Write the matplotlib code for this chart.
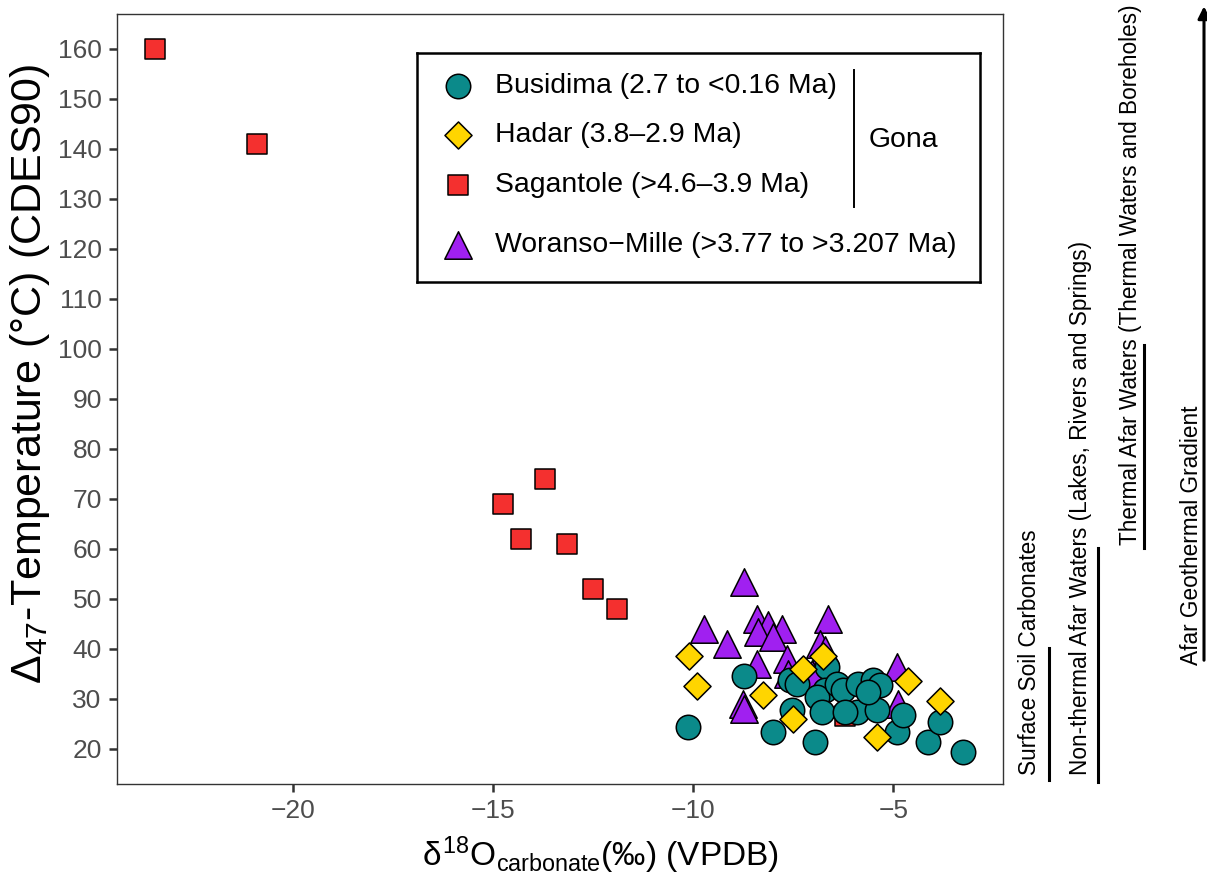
import numpy as np
import matplotlib.pyplot as plt

plt.rcParams['font.family'] = ['Liberation Sans', 'DejaVu Sans']
plt.rcParams['mathtext.fontset'] = 'custom'
plt.rcParams['mathtext.rm'] = 'Liberation Sans'
plt.rcParams['mathtext.it'] = 'Liberation Sans'

###############################################################################
# Datos
###############################################################################
busidima_x = [-10.13, -8.73, -8.0, -7.54, -6.96, -7.58, -7.42, -6.67, -6.71, -6.92,
              -6.79, -6.42, -6.25, -5.88, -5.92, -6.21, -5.5, -5.33, -5.42, -4.92,
              -4.75, -4.13, -3.83, -3.25, -5.63]
busidima_y = [24.3, 34.5, 23.3, 27.7, 21.3, 33.7, 33.0, 36.3, 31.7, 30.3,
              27.3, 33.0, 31.7, 33.0, 27.3, 27.3, 33.7, 32.7, 27.7, 23.3,
              26.7, 21.3, 25.3, 19.3, 31.3]

hadar_x = [-10.1, -9.92, -8.25, -7.25, -6.75, -7.5, -5.42, -4.63, -3.83]
hadar_y = [38.5, 32.5, 30.7, 36.0, 38.5, 26.0, 22.3, 33.5, 29.5]

sagantole_x = [-23.45, -20.9, -14.75, -13.7, -14.3, -13.15, -12.5, -11.9, -6.2]
sagantole_y = [160, 141, 69, 74, 62, 61, 52, 48, 26.5]

woranso_x = [-8.73, -9.73, -9.17, -8.42, -8.13, -7.79, -8.39, -8.0, -6.63, -6.83,
             -6.71, -8.42, -7.67, -7.04, -8.75, -8.73, -4.92, -4.88, -7.63]
woranso_y = [53.3, 44.0, 41.0, 46.0, 44.7, 44.0, 43.3, 42.3, 46.0, 41.0,
             39.7, 37.0, 38.0, 35.0, 29.0, 28.0, 36.3, 29.0, 35.0]

series_labels = ['Busidima (2.7 to <0.16 Ma)', 'Hadar (3.8\u20132.9 Ma)',
                 'Sagantole (>4.6\u20133.9 Ma)', 'Woranso\u2212Mille (>3.77 to >3.207 Ma)']

# rangos de temperatura (anotaciones a la derecha)
rangos = [('Surface Soil Carbonates', 13.7, 40.1),
          ('Non-thermal Afar Waters (Lakes, Rivers and Springs)', 13.3, 60.1),
          ('Thermal Afar Waters (Thermal Waters and Boreholes)', 60.1, 100.7),
          ('Afar Geothermal Gradient', 37.1, 169.0)]

c_teal = '#0B8A8A'
c_gold = '#FFD500'
c_red = '#F4302F'
c_purp = '#A020F0'

###############################################################################
# Figura
###############################################################################
W, H = 1207, 884
fig = plt.figure(figsize=(W/100, H/100), dpi=100)
ax = fig.add_axes([117/W, 1-784/H, 886/W, 770/H])

ax.scatter(sagantole_x, sagantole_y, marker='s', s=215, c=c_red, edgecolors='black', linewidths=1.1, zorder=3)
ax.scatter(woranso_x, woranso_y, marker='^', s=390, c=c_purp, edgecolors='black', linewidths=1.1, zorder=3)
ax.scatter(busidima_x, busidima_y, marker='o', s=310, c=c_teal, edgecolors='black', linewidths=1.1, zorder=3)
ax.scatter(hadar_x, hadar_y, marker='D', s=190, c=c_gold, edgecolors='black', linewidths=1.1, zorder=3)

ax.set_xlim(-24.41, -2.26)
ax.set_ylim(12.9, 166.9)
ax.set_xticks([-20, -15, -10, -5])
ax.set_yticks(np.arange(20, 161, 10))
for s in ax.spines.values():
    s.set_color('#333333')
    s.set_linewidth(1.0)
ax.tick_params(length=6, width=1.8, color='#333333', labelcolor='#4D4D4D', labelsize=19, pad=5)

ax.set_xlabel('$\\delta^{18}\\mathrm{O}_{\\mathrm{carbonate}}$(\u2030) (VPDB)', fontsize=24, va='center')
ax.xaxis.set_label_coords(0.546, -0.092)
ax.set_ylabel('$\\Delta_{47}$-Temperature (\u00b0C) (CDES90)', fontsize=31, va='center')
ax.yaxis.set_label_coords(-0.098, 0.532)

# anotaciones de la derecha
trans = ax.get_yaxis_transform()
xtxt = [(1029-117)/886, (1080-117)/886, (1130-117)/886, (1192-117)/886]
xlin = [(1049-117)/886, (1098-117)/886, (1144-117)/886, (1204-117)/886]
ybot = [14.7, 14.7, 60.7, 36.7]
for i, (txt, y0, y1) in enumerate(rangos):
    ax.text(xtxt[i], ybot[i], txt, rotation=90, ha='center', va='bottom', transform=trans,
            fontsize=16.3, clip_on=False)
    if i < 3:
        ax.plot([xlin[i], xlin[i]], [y0, y1], transform=trans, color='black', lw=2.2, clip_on=False)
    else:
        ax.annotate('', xy=(xlin[i], y1), xytext=(xlin[i], y0), xycoords=trans, textcoords=trans,
                    arrowprops=dict(arrowstyle='-|>', color='black', lw=2.2, mutation_scale=18),
                    annotation_clip=False)

# leyenda manual
lg = fig.add_axes([417/W, 1-282/H, 563/W, 229/H])
lg.set_xlim(0, 563)
lg.set_ylim(229, 0)
lg.set_xticks([])
lg.set_yticks([])
for s in lg.spines.values():
    s.set_color('black')
    s.set_linewidth(1.8)
filas = [33, 82, 132, 192]
marcas = [('o', c_teal, 310), ('D', c_gold, 190), ('s', c_red, 215), ('^', c_purp, 390)]
for yy, (m, c, sz), lab in zip(filas, marcas, series_labels):
    lg.scatter([41], [yy], marker=m, s=sz, c=c, edgecolors='black', linewidths=1.1)
    lg.text(78, yy, lab, fontsize=20.4, va='center', ha='left')
lg.plot([437, 437], [17, 154], color='black', lw=1.4)
lg.text(452, 87, 'Gona', fontsize=20.4, va='center', ha='left')

plt.savefig('out.png', dpi=100)
